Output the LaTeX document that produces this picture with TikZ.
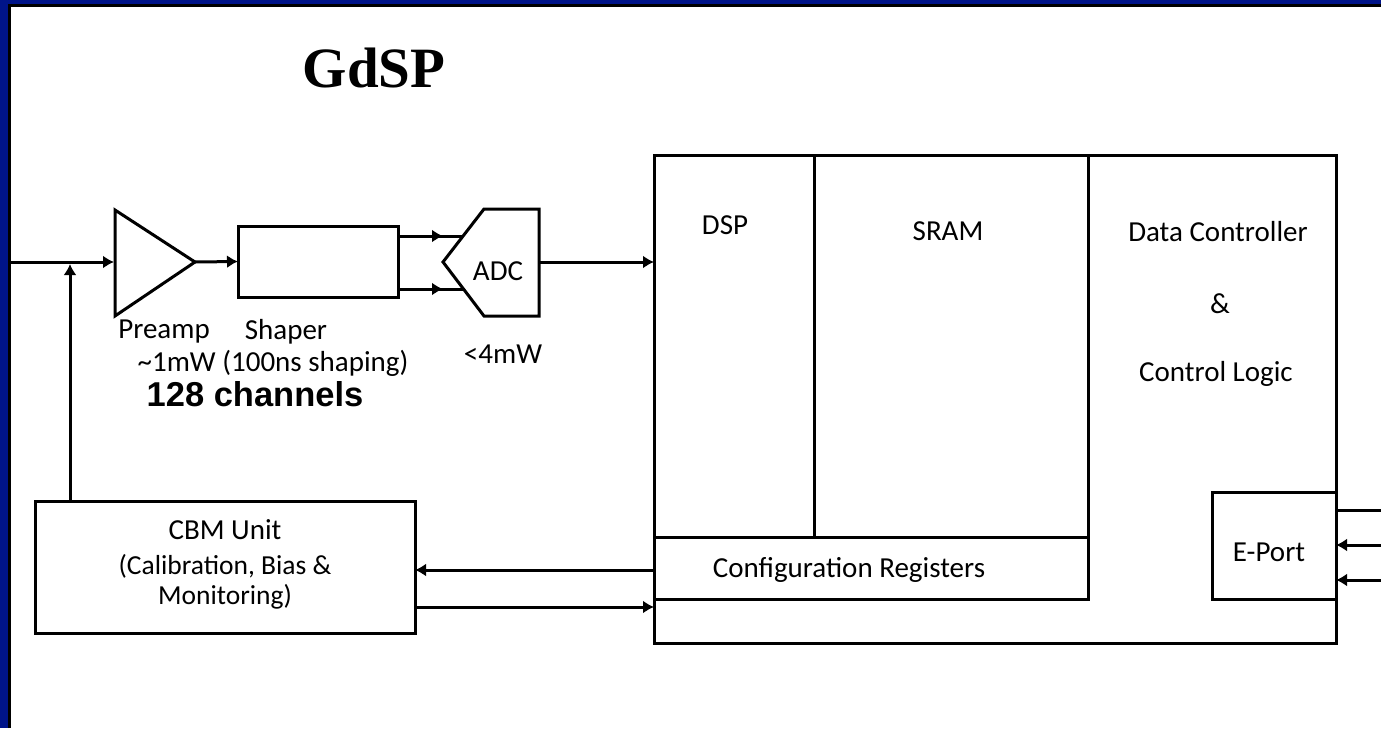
\documentclass[tikz,border=0pt]{standalone}
\usepackage{fontspec}
\setmainfont{Carlito}
\newfontfamily\titlefont{Liberation Serif}
\newfontfamily\boldsans{Liberation Sans}
\usepackage{xcolor}
\usepackage{tikz}
\usetikzlibrary{arrows.meta}
\definecolor{slideblue}{RGB}{0,20,137}

\tikzset{
    wire/.style={line width=3pt},
    arrow/.style={wire,-{Latex[length=11pt,width=13pt]}},
    block/.style={draw,line width=3pt,inner sep=0pt,outer sep=0pt},
    lbl/.style={inner sep=0pt,font=\fontsize{29}{34}\selectfont},
    smalllbl/.style={inner sep=0pt,align=center,font=\fontsize{27.5}{36}\selectfont},
}

\begin{document}
\begin{tikzpicture}[x=1pt,y=-1pt]
    \useasboundingbox (0,0) rectangle (1381,728);
    \fill[slideblue] (0,0) rectangle (1381,728);
    \fill[white] (9,5.5) rectangle (1381,728);
    \draw[line width=3pt] (9,728) -- (9,5.5) -- (1381,5.5);

    \node[font=\fontsize{57}{60}\selectfont\titlefont\bfseries,inner sep=0pt] (title) at (374,68) {GdSP};

    % analog chain
    \coordinate (in) at (10,262);
    \coordinate (tap) at (70,264);
    \coordinate (pa1) at (115,210);
    \coordinate (pa2) at (195,262);
    \coordinate (pa3) at (115,316);
    \coordinate (pain) at (114,262);
    \draw[line width=3pt,line join=miter] (pa1)--(pa2)--(pa3)--cycle;

    \node[block,minimum width=160,minimum height=71] (shaper) at (318,261.5) {};

    \coordinate (adc1) at (539,209);
    \coordinate (adc2) at (484,209);
    \coordinate (adc3) at (443,262);
    \coordinate (adc4) at (484,316);
    \coordinate (adc5) at (539,316);
    \coordinate (adcin1) at (463,236);
    \coordinate (adcin2) at (463,289);
    \draw[line width=3pt] (adc1)--(adc2)--(adc3)--(adc4)--(adc5)--cycle;
    \node[lbl] (adc) at (498,271) {ADC};

    \node[lbl] (preamp) at (164,332) {Preamp};
    \node[lbl] (shapertxt) at (286,332) {Shaper};
    \node[lbl] (power) at (273,363) {\textasciitilde 1mW (100ns shaping)};
    \node[lbl] (adcpower) at (503,354) {<4mW};
    \node[font=\fontsize{34.5}{38}\selectfont\boldsans\bfseries,inner sep=0pt] (channels) at (255,394) {128 channels};

    % digital part
    \node[block,minimum width=682,minimum height=488] (chip) at (995,399) {};
    \node[block,minimum width=160,minimum height=382] (dspbox) at (734,346) {};
    \node[block,minimum width=274,minimum height=382] (srambox) at (951,346) {};
    \node[block,minimum width=434,minimum height=62] (regs) at (871,568) {};
    \node[block,minimum width=124,minimum height=107] (eport) at (1274,545.5) {};

    \node[lbl] (dsp) at (725,225) {DSP};
    \node[lbl] (sram) at (948,231) {SRAM};
    \node[lbl] (ctrl1) at (1218,232) {Data Controller};
    \node[lbl] (ctrl2) at (1220,304) {\&};
    \node[lbl] (ctrl3) at (1216,374) {Control Logic};
    \node[lbl] (regstxt) at (849,570) {Configuration Registers};
    \node[lbl] (eporttxt) at (1269,552) {E-Port};

    \node[block,minimum width=380,minimum height=132] (cbm) at (225,567) {};
    \node[lbl] (cbm1) at (225,530) {CBM Unit};
    \node[smalllbl] (cbm2) at (225,566) {(Calibration, Bias \&};
    \node[smalllbl] (cbm3) at (225,597) {Monitoring)};

    % connections
    \coordinate (ext1) at (1381,510);
    \coordinate (ext2) at (1381,545);
    \coordinate (ext3) at (1381,580);

    \draw[arrow] (in)--(pain);
    \draw[arrow] (cbm.north -| tap)--(tap);
    \draw[arrow] (pa2)--(shaper.west);
    \draw[wire] (shaper.east |- adcin1)--(adcin1);
    \draw[wire] (shaper.east |- adcin2)--(adcin2);
    \draw[arrow] (shaper.east |- adcin1)--(443,236);
    \draw[arrow] (shaper.east |- adcin2)--(443,289);
    \draw[arrow] (adc1 |- adc3)--(chip.west |- adc3);
    \draw[arrow] (regs.west |- 0,570)--(cbm.east |- 0,570);
    \draw[arrow] (cbm.east |- 0,607)--(chip.west |- 0,607);
    \draw[wire] (ext1)--(chip.east |- ext1);
    \draw[arrow] (ext2)--(chip.east |- ext2);
    \draw[arrow] (ext3)--(chip.east |- ext3);
\end{tikzpicture}
\end{document}
